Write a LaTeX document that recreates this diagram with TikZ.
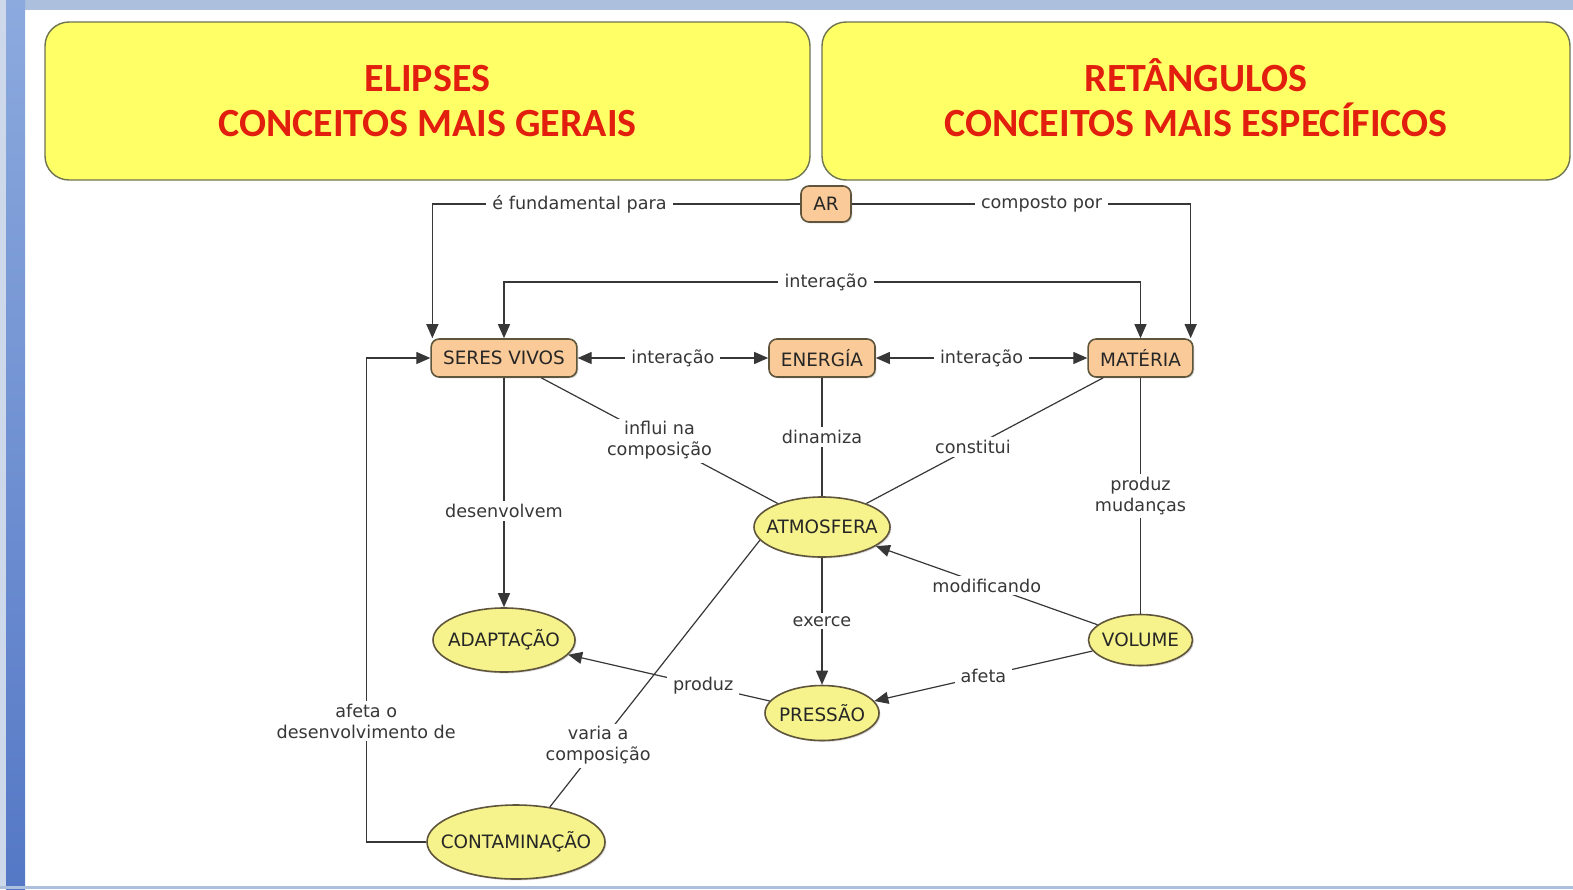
\documentclass[tikz,border=0pt]{standalone}
\usepackage{fontspec}
\setmainfont{DejaVu Sans}
\newfontfamily\titlefont{Carlito}
\usepackage{xcolor}
\usepackage{tikz}
\usetikzlibrary{arrows.meta}
\usetikzlibrary{shapes,shadows}
\definecolor{titleyellow}{RGB}{255,255,102}
\definecolor{titleborder}{RGB}{110,115,80}
\definecolor{titlered}{RGB}{226,30,14}
\definecolor{rectfill}{RGB}{250,202,152}
\definecolor{ellfill}{RGB}{246,243,140}
\definecolor{nodeborder}{RGB}{95,85,60}
\definecolor{linkgray}{RGB}{55,55,55}
\definecolor{framelight}{RGB}{172,192,222}
\definecolor{frametop}{RGB}{140,170,222}
\definecolor{framebottom}{RGB}{85,120,198}
\newcommand{\ctext}[1]{\makebox[0pt]{#1}}
\newcommand{\titlestrut}{\rule[-3.5pt]{0pt}{0pt}}
\tikzstyle{titlebox} = [draw=titleborder, line width=0.7pt, fill=titleyellow, rounded corners=12pt, minimum height=79pt, align=center, text=titlered, font=\titlefont\bfseries\fontsize{20}{22.5}\selectfont]
\tikzstyle{rectconcept} = [draw=nodeborder, line width=0.8pt, fill=rectfill, rounded corners=4pt, minimum height=19pt, inner xsep=6pt, text=black!85, font=\fontsize{9.2}{11}\selectfont, drop shadow={shadow xshift=0.7pt, shadow yshift=-0.7pt, opacity=0.3}]
\tikzstyle{ellconcept} = [ellipse, draw=nodeborder, line width=0.8pt, fill=ellfill, inner sep=0pt, text=black!85, font=\fontsize{9.2}{11}\selectfont, drop shadow={shadow xshift=0.7pt, shadow yshift=-0.7pt, opacity=0.3}]
\tikzstyle{linkword} = [fill=white, inner xsep=3pt, inner ysep=1.5pt, align=center, text=linkgray, font=\fontsize{8.8}{10.5}\selectfont]
\tikzstyle{link} = [draw=linkgray, line width=0.6pt]
\tikzstyle{arrow} = [link, -{Triangle[length=7pt,width=6pt]}]
\tikzstyle{twoarrow} = [link, {Triangle[length=7pt,width=6pt]}-{Triangle[length=7pt,width=6pt]}]

\begin{document}
\begin{tikzpicture}[x=0.5pt, y=-0.5pt]
    \useasboundingbox (0,0) rectangle (1573,889);
    % slide frame
    \fill[framelight] (0,0) rectangle (1573,10);
    \shade[top color=frametop, bottom color=framebottom] (6,0) rectangle (25,889);
    \fill[framelight!60!white] (0,0) rectangle (6,889);
    \fill[framelight] (0,886) rectangle (1573,889);

    % title boxes
    \node[titlebox, minimum width=382.5pt] (gerais) at (427.5,101) {\vphantom{Â}ELIPSES\\CONCEITOS MAIS GERAIS\titlestrut};
    \node[titlebox, minimum width=374pt] (especificos) at (1196,101) {RETÂNGULOS\\CONCEITOS MAIS ESPECÍFICOS\titlestrut};

    % concepts
    \node[rectconcept, minimum width=25pt, minimum height=18pt, inner xsep=3pt] (ar) at (826,204) {AR};
    \node[rectconcept] (sv) at (504,358) {SERES VIVOS};
    \node[rectconcept] (en) at (822,358) {ENERGÍA};
    \node[rectconcept] (mat) at (1140.5,358) {MATÉRIA};
    \node[ellconcept, minimum width=68pt, minimum height=30pt] (atm) at (822,527) {\ctext{ATMOSFERA}};
    \node[ellconcept, minimum width=71pt, minimum height=32pt] (ada) at (504,640) {\ctext{ADAPTAÇÃO}};
    \node[ellconcept, minimum width=52pt, minimum height=25.5pt] (vol) at (1140.5,640) {\ctext{VOLUME}};
    \node[ellconcept, minimum width=57pt, minimum height=27.5pt] (pre) at (822,713) {\ctext{PRESSÃO}};
    \node[ellconcept, minimum width=89pt, minimum height=37pt] (con) at (516,842) {\ctext{CONTAMINAÇÃO}};

    % links
    \coordinate (inttop) at (826,282);
    \draw[arrow] (ar.west) -| node[linkword, pos=0.3] {é fundamental para} ([xshift=1pt]sv.north west);
    \draw[arrow] (ar.east) -| node[linkword, pos=0.28] {composto por} ([xshift=-1.5pt]mat.north east);
    \draw[twoarrow] (sv.north) |- (inttop) node[linkword] {interação} -| (mat.north);
    \draw[twoarrow] (sv.east) -- node[linkword] {interação} (en.west);
    \draw[twoarrow] (en.east) -- node[linkword] {interação} (mat.west);
    \draw[link] (sv) -- node[linkword] {influi na\\composição} (atm);
    \draw[link] (en) -- node[linkword] {dinamiza} (atm);
    \draw[link] (mat) -- node[linkword, pos=0.55] {constitui} (atm);
    \draw[link] (mat) -- node[linkword] {produz\\mudanças} (vol);
    \draw[arrow] (vol) -- node[linkword] {modificando} (atm);
    \draw[arrow] (vol) -- node[linkword] {afeta} (pre);
    \draw[arrow] (atm) -- node[linkword] {exerce} (pre);
    \draw[arrow] (pre) -- node[linkword, pos=0.33] {produz} (ada);
    \draw[arrow] (sv) -- node[linkword, pos=0.58] {desenvolvem} (ada);
    \draw[link] (con.46) -- node[linkword, pos=0.23] {varia a\\composição} (atm.192);
    \draw[arrow] (con.west) -- ++(-60,0) |- node[linkword, pos=0.125] {afeta o\\desenvolvimento de} (sv.west);
\end{tikzpicture}
\end{document}
